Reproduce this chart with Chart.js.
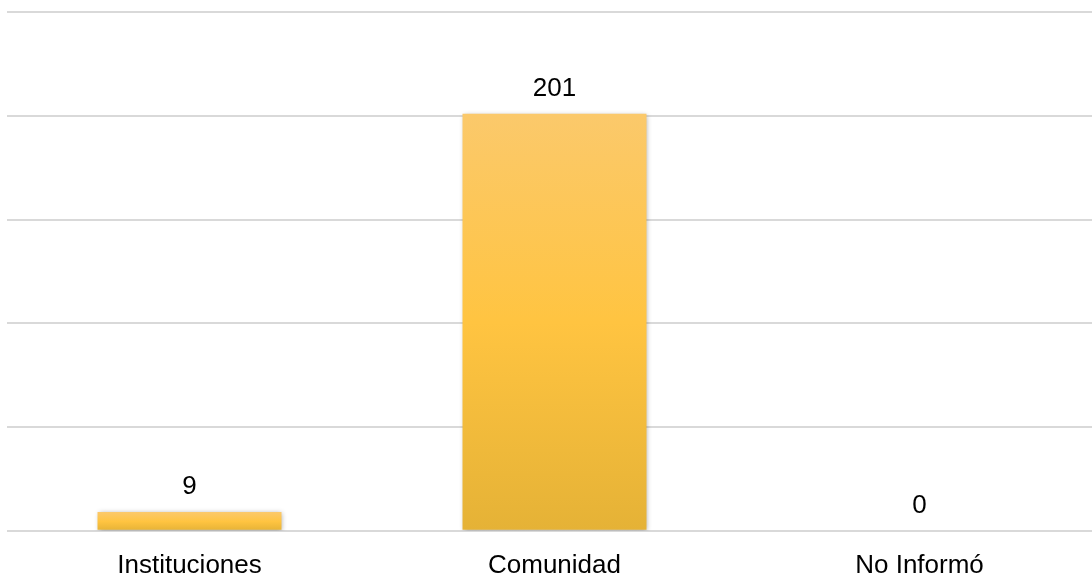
<!DOCTYPE html>
<html lang="es">
<head>
    <meta charset="UTF-8">
    <title>Origen</title>
    <script src="https://cdn.jsdelivr.net/npm/chart.js"></script>
    <style>
        html, body {
            margin: 0;
            padding: 0;
            background: #ffffff;
            overflow: hidden;
        }
        .chart-box {
            width: 1102px;
            height: 600px;
        }
    </style>
</head>
<body>
    <div class="chart-box">
        <canvas id="barChart" width="1102" height="600"></canvas>
    </div>

    <script>
        const categories = ['Instituciones', 'Comunidad', 'No Informó'];
        const values = [9, 201, 0];

        const FONT = '"Liberation Sans", Arial, sans-serif';

        // gradient from the top of each bar to the baseline
        function barGradient(context) {
            const chart = context.chart;
            const yScale = chart.scales.y;
            if (!yScale || !chart.chartArea) {
                return '#FFC441';
            }
            const top = yScale.getPixelForValue(context.raw || 0);
            const bottom = yScale.getPixelForValue(0);
            if (bottom - top < 1) {
                return '#FFC441';
            }
            const g = chart.ctx.createLinearGradient(0, top, 0, bottom);
            g.addColorStop(0, '#FBC96B');
            g.addColorStop(0.5, '#FFC441');
            g.addColorStop(1, '#E5B236');
            return g;
        }

        const shadowPlugin = {
            id: 'barShadow',
            beforeDatasetsDraw(chart) {
                const ctx = chart.ctx;
                ctx.save();
                ctx.shadowColor = 'rgba(0, 0, 0, 0.35)';
                ctx.shadowBlur = 5;
                ctx.shadowOffsetX = 1;
                ctx.shadowOffsetY = 1;
            },
            afterDatasetsDraw(chart) {
                chart.ctx.restore();
            }
        };

        const valueLabels = {
            id: 'valueLabels',
            afterDatasetsDraw(chart) {
                const ctx = chart.ctx;
                const meta = chart.getDatasetMeta(0);
                ctx.save();
                ctx.font = '26px ' + FONT;
                ctx.fillStyle = '#000000';
                ctx.textAlign = 'center';
                ctx.textBaseline = 'middle';
                meta.data.forEach((bar, i) => {
                    ctx.fillText(String(values[i]), bar.x, bar.y - 25);
                });
                ctx.restore();
            }
        };

        const ctxBar = document.getElementById('barChart').getContext('2d');
        const barChart = new Chart(ctxBar, {
            type: 'bar',
            data: {
                labels: categories,
                datasets: [{
                    data: values,
                    backgroundColor: barGradient,
                    borderWidth: 0,
                    barPercentage: 0.504,
                    categoryPercentage: 1.0
                }]
            },
            options: {
                responsive: false,
                animation: false,
                layout: {
                    padding: { left: 7, right: 0, top: 12, bottom: 0 }
                },
                plugins: {
                    legend: { display: false },
                    tooltip: { enabled: false }
                },
                scales: {
                    x: {
                        grid: { display: false, drawTicks: false },
                        border: { display: false },
                        ticks: {
                            color: '#000000',
                            padding: 19,
                            font: { family: FONT, size: 26 }
                        }
                    },
                    y: {
                        min: 0,
                        max: 250,
                        ticks: { display: false, stepSize: 50 },
                        grid: { color: '#D9D9D9', lineWidth: 2, drawTicks: false },
                        border: { display: false }
                    }
                }
            },
            plugins: [shadowPlugin, valueLabels]
        });
    </script>
</body>
</html>
